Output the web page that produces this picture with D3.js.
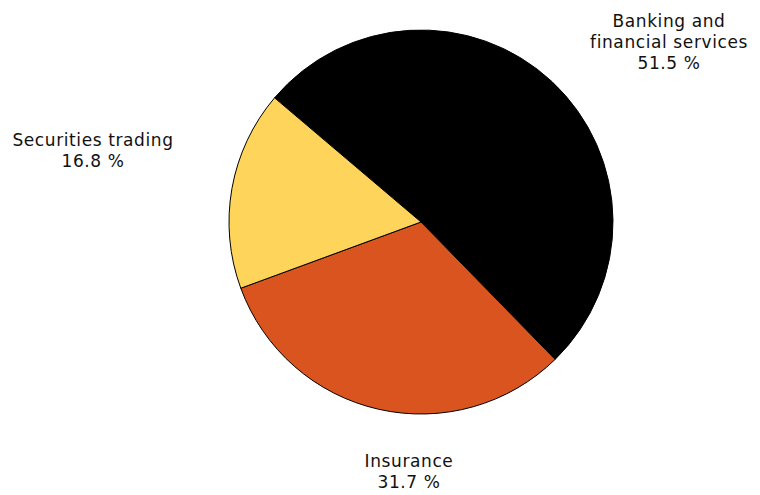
<!DOCTYPE html>
<html>
<head>
<meta charset="utf-8">
<script src="https://cdn.jsdelivr.net/npm/d3@7/dist/d3.min.js"></script>
<style>
  html, body { margin: 0; padding: 0; background: #ffffff; }
  svg { display: block; }
  text { font-family: "DejaVu Sans", Verdana, sans-serif; font-size: 17px; fill: #111111; letter-spacing: 0.6px; }
</style>
</head>
<body>
<svg id="chart" width="760" height="495"></svg>
<script>
// Data
const categories = ["Banking and\nfinancial services", "Insurance", "Securities trading"];
const values = [51.5, 31.7, 16.8];
const colors = ["#000000", "#d9541e", "#fed45a"];

// Layout
const W = 760, H = 495;
const cx = 421, cy = 222, R = 192;
const startAngle = -49.7 * Math.PI / 180;
// label block centre (x, relative to pie centre) and first baseline (y)
const labelLayout = [
  { dx: 248, y0: 26.5 },
  { dx: -12, y0: 467 },
  { dx: -328, y0: 145.5 }
];
const lineHeight = 21;

const svg = d3.select("#chart");
const g = svg.append("g").attr("transform", `translate(${cx},${cy})`);

const pie = d3.pie().sort(null).value(d => d.value)
  .startAngle(startAngle).endAngle(startAngle + 2 * Math.PI);
const arc = d3.arc().innerRadius(0).outerRadius(R);

const data = categories.map((c, i) => ({ name: c, value: values[i], color: colors[i] }));
const arcs = pie(data);

g.selectAll("path.slice").data(arcs).enter().append("path")
  .attr("class", "slice")
  .attr("d", arc)
  .attr("fill", d => d.data.color)
  .attr("stroke", "#000")
  .attr("stroke-width", 1);

const labels = svg.selectAll("text.lbl").data(arcs).enter().append("text")
  .attr("class", "lbl")
  .attr("text-anchor", "middle");

labels.each(function(d, i) {
  const t = d3.select(this);
  const lines = d.data.name.split("\n").concat([d3.format(".1f")(d.data.value) + " %"]);
  const x = cx + labelLayout[i].dx;
  lines.forEach((ln, k) => {
    t.append("tspan").attr("x", x).attr("y", labelLayout[i].y0 + k * lineHeight).text(ln);
  });
});
</script>
</body>
</html>
